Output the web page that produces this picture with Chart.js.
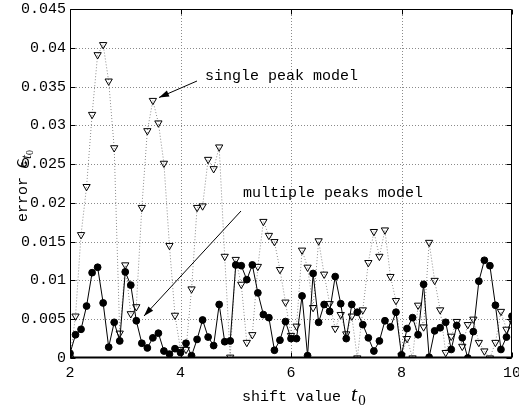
<!DOCTYPE html>
<html>
<head>
<meta charset="utf-8">
<script src="https://cdn.jsdelivr.net/npm/chart.js@4/dist/chart.umd.min.js"></script>
<style>
html,body{margin:0;padding:0;background:#fff;}
#wrap{width:519px;height:407px;position:relative;}
</style>
</head>
<body>
<div id="wrap"><canvas id="c" width="519" height="407"></canvas></div>
<script>
// shift values t0
const shiftValues = [2.0,2.1,2.2,2.3,2.4,2.5,2.6,2.7,2.8,2.9,3.0,3.1,3.2,3.3,3.4,3.5,3.6,3.7,3.8,3.9,
  4.0,4.1,4.2,4.3,4.4,4.5,4.6,4.7,4.8,4.9,5.0,5.1,5.2,5.3,5.4,5.5,5.6,5.7,5.8,5.9,
  6.0,6.1,6.2,6.3,6.4,6.5,6.6,6.7,6.8,6.9,7.0,7.1,7.2,7.3,7.4,7.5,7.6,7.7,7.8,7.9,
  8.0,8.1,8.2,8.3,8.4,8.5,8.6,8.7,8.8,8.9,9.0,9.1,9.2,9.3,9.4,9.5,9.6,9.7,9.8,9.9,10.0];
// multiple peaks model error (filled circles, solid line)
const multiplePeaksError = [0.0006,0.0030,0.0037,0.0067,0.0110,0.0117,0.0071,0.0014,0.0046,0.0022,
  0.0111,0.0094,0.0048,0.0019,0.0013,0.0026,0.0032,0.0009,0.0005,0.0012,
  0.0007,0.0019,0.0003,0.0024,0.0049,0.0027,0.0016,0.0069,0.0021,0.0022,
  0.0120,0.0119,0.0101,0.0120,0.0084,0.0056,0.0052,0.0010,0.0023,0.0047,
  0.0025,0.0025,0.0080,0.0003,0.0109,0.0046,0.0069,0.0060,0.0105,0.0070,
  0.0025,0.0069,0.0059,0.0043,0.0026,0.0009,0.0022,0.0048,0.0040,0.0059,
  0.0004,0.0038,0.0052,0.0030,0.0095,0.0001,0.0035,0.0039,0.0046,0.0011,
  0.0042,0.0026,0.0000,0.0034,0.0099,0.0126,0.0119,0.0068,0.0011,0.0027,0.0054];
// single peak model error (open down-triangles, dotted line)
const singlePeakError = [0.0000,0.0054,0.0159,0.0221,0.0314,0.0391,0.0404,0.0357,0.0271,0.0032,
  0.0120,0.0057,0.0066,0.0194,0.0293,0.0332,0.0303,0.0251,0.0145,0.0055,
  0.0011,0.0011,0.0089,0.0194,0.0196,0.0256,0.0244,0.0272,0.0131,0.0001,
  0.0127,0.0095,0.0020,0.0030,0.0118,0.0176,0.0158,0.0150,0.0114,0.0072,
  0.0029,0.0041,0.0139,0.0117,0.0065,0.0151,0.0108,0.0070,0.0038,0.0056,
  0.0031,0.0054,0.0000,0.0062,0.0123,0.0163,0.0131,0.0165,0.0105,0.0074,
  0.0003,0.0025,0.0000,0.0068,0.0040,0.0149,0.0100,0.0062,0.0007,0.0028,
  0.0047,0.0015,0.0043,0.0050,0.0020,0.0009,0.0000,0.0020,0.0060,0.0037,0.0047];
const xTickValues = [2,4,6,8,10];
const xTickLabels = ['2','4','6','8','10'];
const yTickValues = [0,0.005,0.01,0.015,0.02,0.025,0.03,0.035,0.04,0.045];
const yTickLabels = ['0','0.005','0.01','0.015','0.02','0.025','0.03','0.035','0.04','0.045'];
const annotationTexts = ['single peak model','multiple peaks model'];

const MONO = '"Liberation Mono", "DejaVu Sans Mono", monospace';
const SERIF = '"Liberation Serif", "DejaVu Serif", serif';

const matlabPlugin = {
  id: 'matlab',
  beforeDatasetsDraw(chart) {
    const {ctx, chartArea: a, scales: {x, y}} = chart;
    ctx.save();
    ctx.strokeStyle = '#8a8a8a';
    ctx.lineWidth = 1;
    ctx.setLineDash([1, 2]);
    xTickValues.forEach(v => {
      if (v === x.min || v === x.max) return;
      const px = Math.round(x.getPixelForValue(v)) + 0.5;
      ctx.beginPath(); ctx.moveTo(px, a.top); ctx.lineTo(px, a.bottom); ctx.stroke();
    });
    yTickValues.forEach(v => {
      if (v === y.min || v === y.max) return;
      const py = Math.round(y.getPixelForValue(v)) + 0.5;
      ctx.beginPath(); ctx.moveTo(a.left, py); ctx.lineTo(a.right, py); ctx.stroke();
    });
    ctx.restore();
  },
  afterDatasetsDraw(chart) {
    const {ctx, chartArea: a, scales: {x, y}} = chart;
    ctx.save();
    ctx.strokeStyle = '#000';
    ctx.setLineDash([]);
    ctx.lineWidth = 1;
    const L = Math.round(a.left) + 0.5, R = Math.round(a.right) - 0.5;
    const T = Math.round(a.top) + 0.5, B = Math.round(a.bottom) - 0.5;
    ctx.beginPath();
    ctx.moveTo(L, B); ctx.lineTo(L, T); ctx.lineTo(R, T); ctx.lineTo(R, B);
    ctx.stroke();
    ctx.lineWidth = 2;
    ctx.beginPath(); ctx.moveTo(L - 0.5, B); ctx.lineTo(R + 0.5, B); ctx.stroke();
    ctx.lineWidth = 1;
    const tl = 5;
    xTickValues.forEach(v => {
      const px = Math.round(x.getPixelForValue(v)) + 0.5;
      ctx.beginPath(); ctx.moveTo(px, B); ctx.lineTo(px, B - tl); ctx.stroke();
      ctx.beginPath(); ctx.moveTo(px, T); ctx.lineTo(px, T + tl); ctx.stroke();
    });
    yTickValues.forEach(v => {
      const py = Math.round(y.getPixelForValue(v)) + 0.5;
      ctx.beginPath(); ctx.moveTo(L, py); ctx.lineTo(L + tl, py); ctx.stroke();
      ctx.beginPath(); ctx.moveTo(R, py); ctx.lineTo(R - tl, py); ctx.stroke();
    });
    ctx.restore();
  },
  afterDraw(chart) {
    const {ctx} = chart;
    ctx.save();
    ctx.fillStyle = '#000';
    ctx.strokeStyle = '#000';
    // annotations
    ctx.font = '15px ' + MONO;
    ctx.textBaseline = 'middle';
    ctx.textAlign = 'left';
    ctx.fillText(annotationTexts[0], 205, 76);
    ctx.fillText(annotationTexts[1], 243, 193);
    const arrow = (x1, y1, x2, y2) => {
      ctx.lineWidth = 1;
      ctx.beginPath(); ctx.moveTo(x1, y1); ctx.lineTo(x2, y2); ctx.stroke();
      const ang = Math.atan2(y2 - y1, x2 - x1);
      const len = 10, w = 3.2;
      const bx = x2 - len * Math.cos(ang), by = y2 - len * Math.sin(ang);
      ctx.beginPath();
      ctx.moveTo(x2, y2);
      ctx.lineTo(bx + w * Math.sin(ang), by - w * Math.cos(ang));
      ctx.lineTo(bx - w * Math.sin(ang), by + w * Math.cos(ang));
      ctx.closePath(); ctx.fill();
    };
    arrow(197, 81, 159, 97.5);
    arrow(241, 211, 144, 316);
    // x axis title
    ctx.textBaseline = 'alphabetic';
    ctx.font = '15px ' + MONO;
    ctx.fillText('shift value ', 242, 401);
    let w = ctx.measureText('shift value ').width;
    ctx.font = 'italic 22px ' + SERIF;
    ctx.fillText('t', 242 + w + 1, 401);
    let w2 = ctx.measureText('t').width;
    ctx.font = '15px ' + SERIF;
    ctx.fillText('0', 242 + w + 1 + w2 + 1, 405);
    // y axis title
    ctx.translate(27, 222);
    ctx.rotate(-Math.PI / 2);
    ctx.font = '15px ' + MONO;
    ctx.fillText('error ', 0, 0);
    w = ctx.measureText('error ').width;
    ctx.font = 'italic 20px ' + SERIF;
    ctx.fillText('\u03f5', w, 0);
    w2 = ctx.measureText('\u03f5').width;
    ctx.font = 'italic 14px ' + SERIF;
    ctx.fillText('t', w + w2 + 1, 4);
    const w3 = ctx.measureText('t').width;
    ctx.font = '10px ' + SERIF;
    ctx.fillText('0', w + w2 + 1 + w3, 6);
    ctx.restore();
  }
};

new Chart(document.getElementById('c'), {
  type: 'line',
  data: {
    datasets: [
      {
        label: 'multiple peaks model',
        data: shiftValues.map((t, i) => ({x: t, y: multiplePeaksError[i]})),
        borderColor: '#000',
        borderWidth: 1,
        pointStyle: 'circle',
        pointRadius: 3.4,
        pointBackgroundColor: '#000',
        pointBorderColor: '#000',
        pointBorderWidth: 1,
        tension: 0,
        order: 0
      },
      {
        label: 'single peak model',
        data: shiftValues.map((t, i) => ({x: t, y: singlePeakError[i]})),
        borderColor: '#8a8a8a',
        borderWidth: 1,
        borderDash: [1, 2],
        pointStyle: 'triangle',
        pointRotation: 180,
        pointRadius: 4.2,
        pointBackgroundColor: 'rgba(255,255,255,0)',
        pointBorderColor: '#000',
        pointBorderWidth: 1,
        tension: 0,
        order: 1
      }
    ]
  },
  options: {
    responsive: false,
    animation: false,
    devicePixelRatio: 1,
    layout: {padding: {left: 0, right: 7, top: 9, bottom: 0}},
    plugins: {legend: {display: false}, tooltip: {enabled: false}},
    scales: {
      x: {
        type: 'linear', min: 2, max: 10,
        grid: {display: false, drawTicks: false},
        border: {display: false},
        afterBuildTicks: s => { s.ticks = xTickValues.map(v => ({value: v})); },
        ticks: {
          autoSkip: false, maxRotation: 0, padding: 6, color: '#000',
          font: {family: MONO, size: 15},
          callback: (v) => xTickLabels[xTickValues.indexOf(v)]
        },
        afterFit: s => { s.height = 49; s.paddingLeft = 0; s.paddingRight = 0; }
      },
      y: {
        type: 'linear', min: 0, max: 0.045,
        grid: {display: false, drawTicks: false},
        border: {display: false},
        afterBuildTicks: s => { s.ticks = yTickValues.map(v => ({value: v})); },
        ticks: {
          autoSkip: false, padding: 4, color: '#000',
          font: {family: MONO, size: 15},
          callback: (v) => yTickLabels[yTickValues.indexOf(v)]
        },
        afterFit: s => { s.width = 70; s.paddingTop = 0; s.paddingBottom = 0; }
      }
    }
  },
  plugins: [matlabPlugin]
});
</script>
</body>
</html>
